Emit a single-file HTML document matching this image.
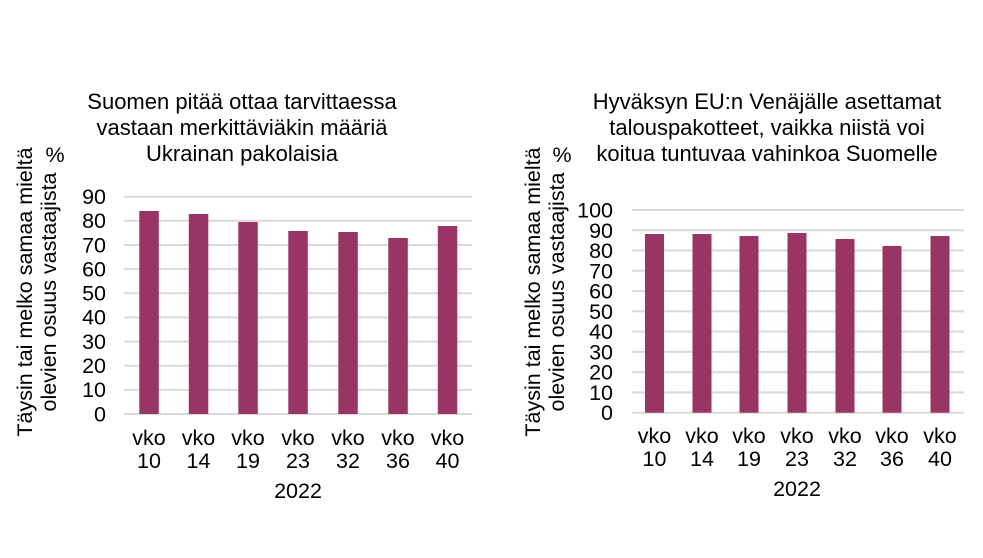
<!DOCTYPE html>
<html><head><meta charset="utf-8"><style>
html,body{margin:0;padding:0;background:#fff;}
svg text{font-family:"Liberation Sans",Arial,sans-serif;fill:#000;}
</style></head><body>
<svg width="983" height="553" viewBox="0 0 983 553" xmlns="http://www.w3.org/2000/svg">
<rect width="983" height="553" fill="#fff"/>
<g font-size="22" text-anchor="middle">
<text x="242" y="109">Suomen pitää ottaa tarvittaessa</text>
<text x="242" y="135">vastaan merkittäviäkin määriä</text>
<text x="242" y="161">Ukrainan pakolaisia</text>
<text x="767" y="109">Hyväksyn EU:n Venäjälle asettamat</text>
<text x="767" y="135">talouspakotteet, vaikka niistä voi</text>
<text x="767" y="161">koitua tuntuvaa vahinkoa Suomelle</text>
</g>
<g stroke="#d9d9d9" stroke-width="2">
<line x1="124" x2="472" y1="196.7" y2="196.7"/><line x1="124" x2="472" y1="220.8" y2="220.8"/>
<line x1="124" x2="472" y1="245" y2="245"/><line x1="124" x2="472" y1="269.1" y2="269.1"/>
<line x1="124" x2="472" y1="293.3" y2="293.3"/><line x1="124" x2="472" y1="317.4" y2="317.4"/>
<line x1="124" x2="472" y1="341.6" y2="341.6"/><line x1="124" x2="472" y1="365.7" y2="365.7"/>
<line x1="124" x2="472" y1="389.9" y2="389.9"/><line x1="124" x2="472" y1="414" y2="414"/>
</g>
<g fill="#983564">
<rect x="139.3" y="211" width="19.5" height="203"/>
<rect x="188.8" y="214" width="19.5" height="200"/>
<rect x="238.3" y="222" width="19.5" height="192"/>
<rect x="288.3" y="231" width="19.5" height="183"/>
<rect x="338.3" y="232" width="19.5" height="182"/>
<rect x="388.3" y="238" width="19.5" height="176"/>
<rect x="437.8" y="226" width="19.5" height="188"/>
</g>
<g font-size="21.5" text-anchor="end">
<text x="106" y="204">90</text><text x="106" y="228.1">80</text><text x="106" y="252.3">70</text>
<text x="106" y="276.4">60</text><text x="106" y="300.6">50</text><text x="106" y="324.7">40</text>
<text x="106" y="348.9">30</text><text x="106" y="373">20</text><text x="106" y="397.2">10</text>
<text x="106" y="421.3">0</text>
</g>
<g font-size="21.5" text-anchor="middle">
<text x="149" y="445">vko</text><text x="149" y="468">10</text>
<text x="198.5" y="445">vko</text><text x="198.5" y="468">14</text>
<text x="248" y="445">vko</text><text x="248" y="468">19</text>
<text x="298" y="445">vko</text><text x="298" y="468">23</text>
<text x="348" y="445">vko</text><text x="348" y="468">32</text>
<text x="398" y="445">vko</text><text x="398" y="468">36</text>
<text x="447.5" y="445">vko</text><text x="447.5" y="468">40</text>
<text x="298" y="498">2022</text>
<text x="55" y="162">%</text>
<text transform="translate(32,292) rotate(-90)">Täysin tai melko samaa mieltä</text>
<text transform="translate(56,292) rotate(-90)">olevien osuus vastaajista</text>
</g>
<g stroke="#d9d9d9" stroke-width="2">
<line x1="632" x2="964" y1="210" y2="210"/><line x1="632" x2="964" y1="230.3" y2="230.3"/>
<line x1="632" x2="964" y1="250.5" y2="250.5"/><line x1="632" x2="964" y1="270.8" y2="270.8"/>
<line x1="632" x2="964" y1="291.1" y2="291.1"/><line x1="632" x2="964" y1="311.4" y2="311.4"/>
<line x1="632" x2="964" y1="331.6" y2="331.6"/><line x1="632" x2="964" y1="351.9" y2="351.9"/>
<line x1="632" x2="964" y1="372.2" y2="372.2"/><line x1="632" x2="964" y1="392.4" y2="392.4"/>
<line x1="632" x2="964" y1="412.7" y2="412.7"/>
</g>
<g fill="#983564">
<rect x="645" y="234" width="19" height="178.7"/>
<rect x="692.5" y="234" width="19" height="178.7"/>
<rect x="739.5" y="236" width="19" height="176.7"/>
<rect x="787.5" y="233" width="19" height="179.7"/>
<rect x="835.5" y="239" width="19" height="173.7"/>
<rect x="882.5" y="246" width="19" height="166.7"/>
<rect x="930.5" y="236" width="19" height="176.7"/>
</g>
<g font-size="21.5" text-anchor="end">
<text x="613" y="217.5">100</text><text x="613" y="237.8">90</text><text x="613" y="258">80</text>
<text x="613" y="278.3">70</text><text x="613" y="298.6">60</text><text x="613" y="318.9">50</text>
<text x="613" y="339.1">40</text><text x="613" y="359.4">30</text><text x="613" y="379.7">20</text>
<text x="613" y="399.9">10</text><text x="613" y="420.2">0</text>
</g>
<g font-size="21.5" text-anchor="middle">
<text x="654.5" y="443">vko</text><text x="654.5" y="466">10</text>
<text x="702" y="443">vko</text><text x="702" y="466">14</text>
<text x="749" y="443">vko</text><text x="749" y="466">19</text>
<text x="797" y="443">vko</text><text x="797" y="466">23</text>
<text x="845" y="443">vko</text><text x="845" y="466">32</text>
<text x="892" y="443">vko</text><text x="892" y="466">36</text>
<text x="940" y="443">vko</text><text x="940" y="466">40</text>
<text x="797" y="496">2022</text>
<text x="562" y="162">%</text>
<text transform="translate(540,292) rotate(-90)">Täysin tai melko samaa mieltä</text>
<text transform="translate(564,292) rotate(-90)">olevien osuus vastaajista</text>
</g>
</svg>
</body></html>
